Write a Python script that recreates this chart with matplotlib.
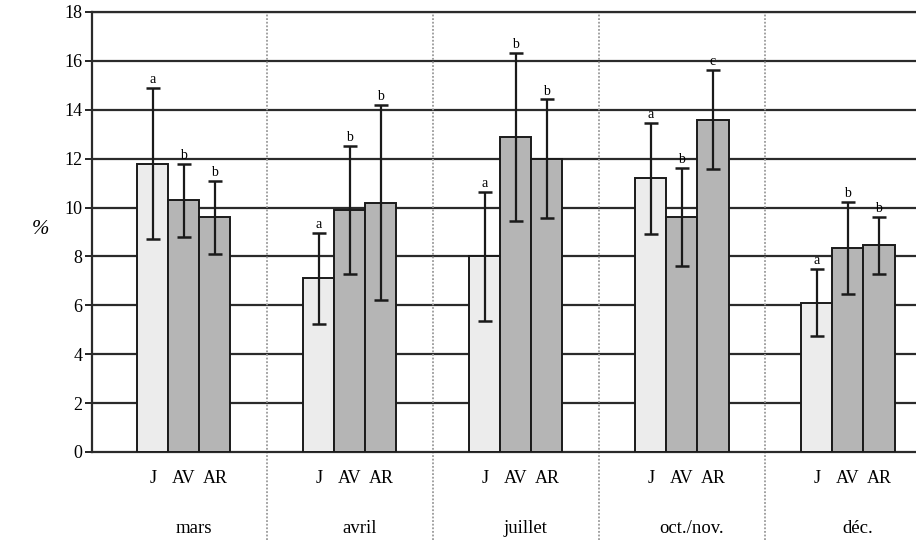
import matplotlib

matplotlib.use("Agg")
import matplotlib.pyplot as plt
import numpy as np

plt.rcParams["font.family"] = ["Liberation Serif", "DejaVu Serif"]

MONTHS = ["mars", "avril", "juillet", "oct./nov.", "déc."]
SERIES = ["J", "AV", "AR"]

J_MEAN = [11.8, 7.1, 8.0, 11.2, 6.1]
J_ERR = [3.1, 1.85, 2.65, 2.27, 1.37]
J_LETTERS = ["a", "a", "a", "a", "a"]

AV_MEAN = [10.3, 9.9, 12.9, 9.6, 8.35]
AV_ERR = [1.5, 2.6, 3.44, 2.0, 1.87]
AV_LETTERS = ["b", "b", "b", "b", "b"]

AR_MEAN = [9.6, 10.2, 12.0, 13.6, 8.45]
AR_ERR = [1.5, 4.0, 2.42, 2.03, 1.15]
AR_LETTERS = ["b", "b", "b", "c", "b"]

Y_TICKS = [0, 2, 4, 6, 8, 10, 12, 14, 16, 18]

J_FILL = "#ececec"
AV_FILL = "#b5b5b5"
EDGE = "#1a1a1a"

fig = plt.figure(figsize=(9.16, 5.46), dpi=100, facecolor="white")
ax = fig.add_axes([0.1004, 0.1722, 0.8996, 0.8059])

x = np.arange(len(MONTHS))
width = 0.187
series = [
    (J_MEAN, J_ERR, J_LETTERS, J_FILL),
    (AV_MEAN, AV_ERR, AV_LETTERS, AV_FILL),
    (AR_MEAN, AR_ERR, AR_LETTERS, AV_FILL),
]

for y in Y_TICKS[1:]:
    ax.axhline(y, color="#2b2b2b", linewidth=1.6, zorder=1)

for k, (means, errs, letters, fill) in enumerate(series):
    pos = x + (k - 1) * width
    ax.bar(pos, means, width=width, color=fill, edgecolor=EDGE, linewidth=1.4, zorder=3)
    ax.errorbar(pos, means, yerr=errs, fmt="none", ecolor=EDGE, elinewidth=1.6,
                capsize=5, capthick=1.8, zorder=4)
    for p, m, e, lt in zip(pos, means, errs, letters):
        ax.text(p, m + e + 0.08, lt, ha="center", va="bottom", fontsize=10, zorder=5)

# dotted dividers between months, running below the axis
for i in range(len(MONTHS) - 1):
    ax.plot([i + 0.5, i + 0.5], [-3.6, 18], color="#9a9a9a", linewidth=1.3,
            linestyle=(0, (1, 1)), clip_on=False, zorder=2)

ax.set_xlim(-0.554, 4.41)
ax.set_ylim(0, 18)
ax.set_yticks(Y_TICKS)
ax.tick_params(axis="y", direction="out", length=5, width=1.2, labelsize=13, pad=2)

ticks = np.concatenate([x + (k - 1) * width for k in range(3)])
labels = [s for s in SERIES for _ in MONTHS]
ax.set_xticks(ticks)
ax.set_xticklabels(labels, fontsize=13)
ax.tick_params(axis="x", length=0, pad=13)

for i, m in enumerate(MONTHS):
    ax.text(i + 0.06, -0.175, m, transform=ax.get_xaxis_transform(),
            ha="center", va="center", fontsize=13.5)

ax.spines["right"].set_visible(False)
for side in ("left", "bottom", "top"):
    ax.spines[side].set_linewidth(1.6)
    ax.spines[side].set_color("#2b2b2b")

fig.text(0.044, 0.58, "%", ha="center", va="center", fontsize=15, style="italic")

fig.savefig("out.png", dpi=100, facecolor="white")
